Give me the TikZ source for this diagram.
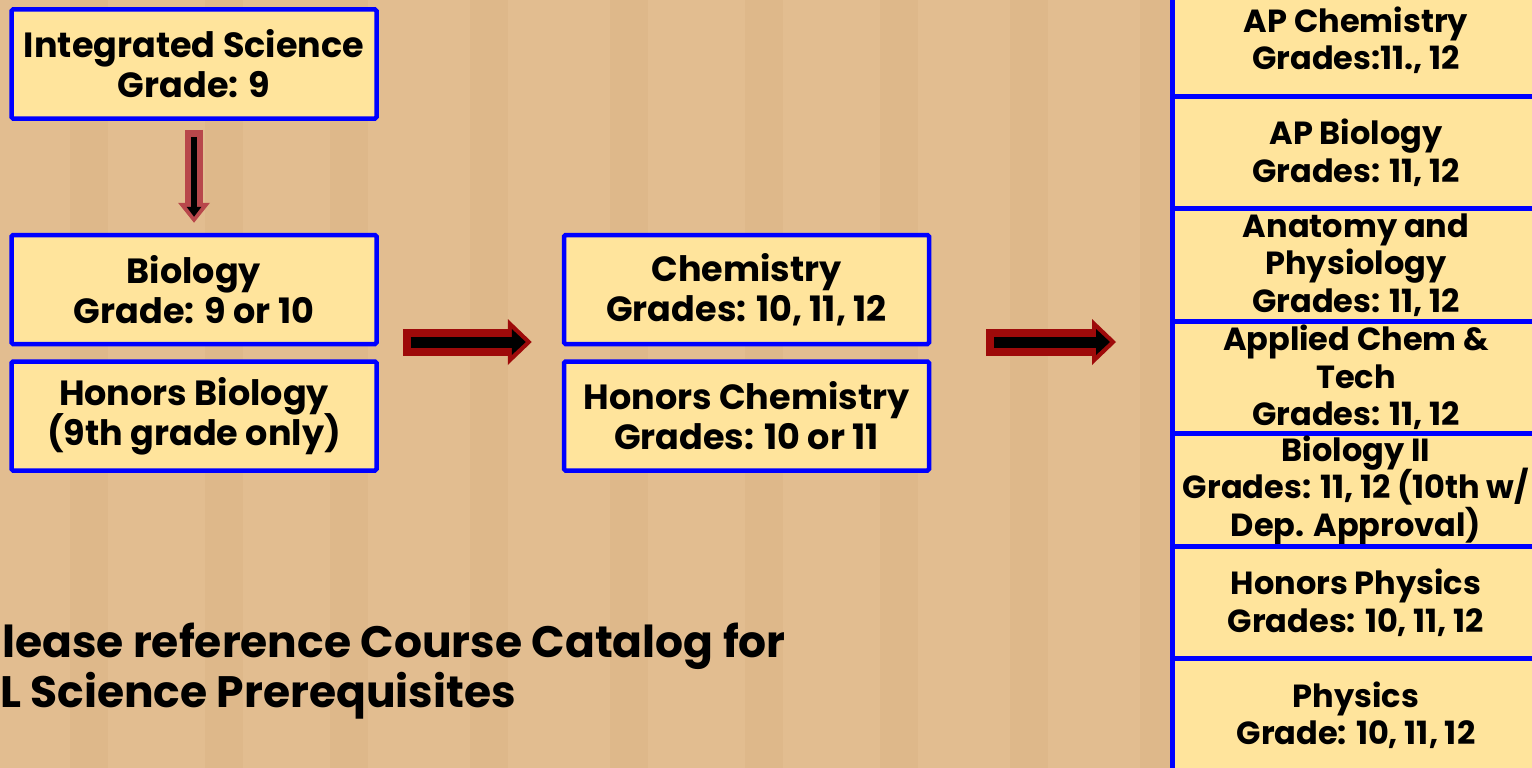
\documentclass[tikz,border=0pt]{standalone}
\usepackage{fontspec}
\setmainfont{Poppins}
\usetikzlibrary{positioning,arrows.meta,calc}

\definecolor{wood}{HTML}{E2BD90}
\definecolor{grain}{HTML}{D6AD7E}
\definecolor{boxfill}{HTML}{FFE49C}
\definecolor{boxblue}{HTML}{0000FF}
\definecolor{arrowred}{HTML}{9E0A0A}
\definecolor{softred}{HTML}{B8474B}

\newcommand\tightlines{\lineskiplimit -40pt\relax}

\tikzset{
  course/.style={draw=boxblue, fill=boxfill, line width=4.5pt, rounded corners=1.5pt,
    minimum width=365pt, minimum height=109pt, inner sep=0pt, align=center,
    font={\fontsize{35}{40}\selectfont\bfseries\tightlines}},
  elective/.style={course, line width=5pt, rounded corners=0pt,
    minimum width=368pt, minimum height=112.5pt,
    font={\fontsize{32}{37.5}\selectfont\bfseries\tightlines}},
  note/.style={anchor=base west, inner sep=0pt, font=\fontsize{44}{50}\selectfont\bfseries},
  redshaft/.style={draw=arrowred, line width=27pt, -{Triangle[length=24pt,width=46pt,line width=0pt]}},
  blackshaft/.style={draw=black, line width=11pt, -{Triangle[length=14pt,width=26pt,line width=0pt]}},
  softshaft/.style={draw=softred, line width=18pt, -{Triangle[length=20pt,width=32pt,line width=0pt]}},
  thinshaft/.style={draw=black, line width=6pt, -{Triangle[length=10pt,width=15pt,line width=0pt]}}
}

\begin{document}
\begin{tikzpicture}[x=1pt,y=-1pt]
\useasboundingbox (0,0) rectangle (1532,768);
\clip (0,0) rectangle (1532,768);

% wooden background
\fill[wood] (0,0) rectangle (1532,768);
\foreach \gx in {70,205,330,470,610,745,880,1010,1140}
  \fill[grain, opacity=0.3] (\gx,0) rectangle ++(38,768);

% ninth and tenth grade courses
\node [course] (is) at (194,64) {Integrated Science\\Grade: 9};
\node [course, below=112pt of is] (bio) {Biology\\Grade: 9 or 10};
\node [course, below=13pt of bio] (hbio) {Honors Biology\\(9th grade only)};
\node [course, right=183pt of bio] (chem) {Chemistry\\Grades: 10, 11, 12};
\node [course, below=13pt of chem] (hchem) {Honors Chemistry\\Grades: 10 or 11};

% upper level electives
\node [elective] (apchem) at (1356,40) {AP Chemistry\\Grades:11., 12};
\node [elective] (apbio) at (1356,152.5) {AP Biology\\Grades: 11, 12};
\node [elective] (anat) at (1356,265) {Anatomy and\\Physiology\\Grades: 11, 12};
\node [elective] (appchem) at (1356,377.5) {Applied Chem \&\\Tech\\Grades: 11, 12};
\node [elective] (bioii) at (1356,490) {Biology II\\Grades: 11, 12 (10th w/\\Dep. Approval)};
\node [elective] (hphys) at (1356,602.5) {Honors Physics\\Grades: 10, 11, 12};
\node [elective] (phys) at (1356,715) {Physics\\Grade: 10, 11, 12};

% arrow ends
\coordinate (d1) at ($(is.south)+(0,9)$);
\coordinate (d2) at ($(bio.north)+(0,-10)$);
\coordinate (r1) at ($(bio.east)+(24,52.5)$);
\coordinate (r2) at ($(chem.west)+(-30,52.5)$);
\coordinate (r3) at ($(chem.east)+(55,52.5)$);
\coordinate (r4) at ($(anat.west |- r3)+(-53.5,0)$);

% to draw the arrows
\draw [softshaft] (d1) -- (d2);
\draw [thinshaft] ($(d1)+(0,7)$) -- ($(d2)+(0,-6)$);
\draw [redshaft] (r1) -- (r2);
\draw [blackshaft] ($(r1)+(8,0)$) -- ($(r2)+(-6,0)$);
\draw [redshaft] (r3) -- (r4);
\draw [blackshaft] ($(r3)+(8,0)$) -- ($(r4)+(-6,0)$);

% note at the bottom
\node [note] (note1) at (2,657) {lease reference Course Catalog for};
\node [note] (note2) at (0,707) {L Science Prerequisites};
\end{tikzpicture}
\end{document}
